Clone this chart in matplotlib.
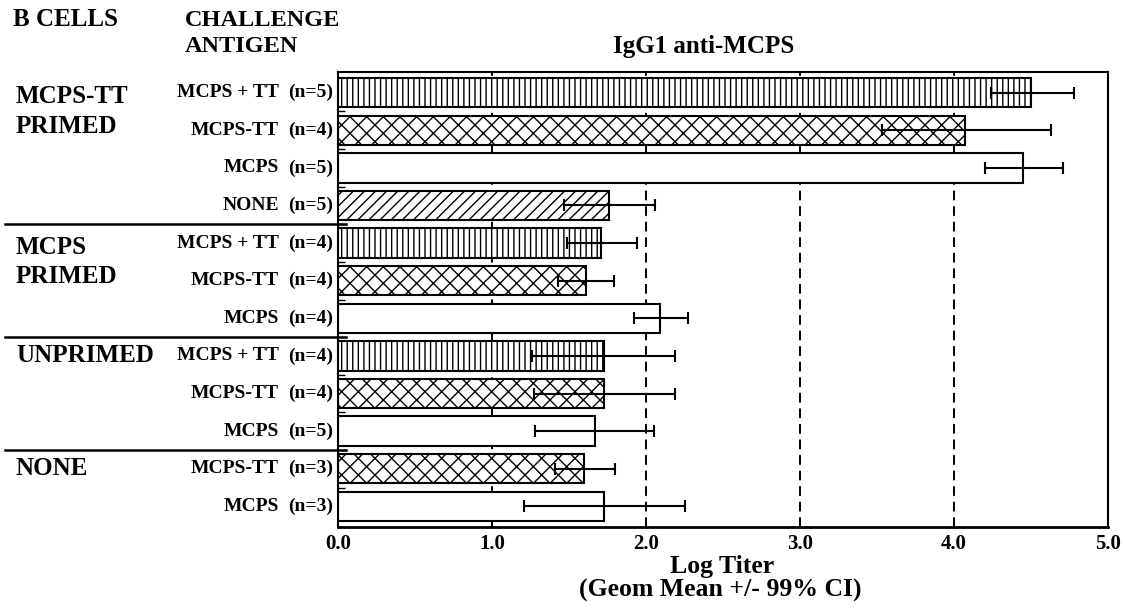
import matplotlib
matplotlib.use("Agg")
import matplotlib.pyplot as plt
import matplotlib.transforms as mtransforms

# ---- data ----
group_labels = ["MCPS-TT\nPRIMED", "MCPS\nPRIMED", "UNPRIMED", "NONE"]
challenge = ["MCPS + TT", "MCPS-TT", "MCPS", "NONE",
             "MCPS + TT", "MCPS-TT", "MCPS",
             "MCPS + TT", "MCPS-TT", "MCPS",
             "MCPS-TT", "MCPS"]
n_values = [5, 4, 5, 5, 4, 4, 4, 4, 4, 5, 3, 3]
means = [4.50, 4.07, 4.45, 1.76, 1.71, 1.61, 2.09, 1.73, 1.73, 1.67, 1.60, 1.73]
ci_low = [4.24, 3.53, 4.20, 1.47, 1.49, 1.43, 1.92, 1.26, 1.27, 1.28, 1.41, 1.21]
ci_high = [4.78, 4.63, 4.71, 2.06, 1.94, 1.79, 2.27, 2.19, 2.19, 2.05, 1.80, 2.25]
x_ticks = [0.0, 1.0, 2.0, 3.0, 4.0, 5.0]
x_ticklabels = ["0.0", "1.0", "2.0", "3.0", "4.0", "5.0"]
hatch_map = {"MCPS + TT": "|||", "MCPS-TT": "xx", "MCPS": "", "NONE": "///"}

plt.rcParams["font.family"] = ["Liberation Serif", "DejaVu Serif"]
plt.rcParams["font.weight"] = "bold"
plt.rcParams["hatch.linewidth"] = 1.0

W, H = 1125, 611
fig = plt.figure(figsize=(W / 100, H / 100), dpi=100)
L, R, T, B = 338, 1108, 72, 527
ax = fig.add_axes([L / W, 1 - B / H, (R - L) / W, (B - T) / H])

rows = list(range(len(means)))
ax.set_xlim(0, 5)
ax.set_ylim(len(means) - 0.45, -0.55)

# reference lines
for xv in [1.0, 2.0, 3.0, 4.0]:
    ax.axvline(xv, color="black", lw=1.4, ls=(0, (5, 3)), zorder=1)

for i in rows:
    ax.barh(i, means[i], height=0.78, color="white", edgecolor="black",
            lw=1.5, hatch=hatch_map[challenge[i]], zorder=2)

xerr = [[m - lo for m, lo in zip(means, ci_low)],
        [hi - m for m, hi in zip(means, ci_high)]]
ax.errorbar(means, rows, xerr=xerr, fmt="none", ecolor="black",
            elinewidth=1.5, capsize=4, capthick=1.5, zorder=3)

ax.set_xticks(x_ticks)
ax.set_xticklabels(x_ticklabels, fontsize=15, fontweight="bold")
ax.tick_params(axis="x", direction="in", length=4, width=1.2, pad=5)
ax.set_yticks([r + 0.5 for r in rows[:-1]])
ax.set_yticklabels([])
ax.tick_params(axis="y", direction="in", length=5, width=1.0)
for s in ax.spines.values():
    s.set_linewidth(1.5)
ax.spines["bottom"].set_linewidth(2.0)

trans = mtransforms.blended_transform_factory(fig.transFigure, ax.transData)
for i in rows:
    ax.text(279 / W, i, challenge[i], transform=trans, ha="right",
            va="center", fontsize=14, fontweight="bold")
    ax.text(333 / W, i, f"(n={n_values[i]})", transform=trans, ha="right",
            va="center", fontsize=14, fontweight="bold")

# group labels
group_rows = [0.5, 4.5, 7, 10]
for lab, r in zip(group_labels, group_rows):
    ax.text(16 / W, r, lab, transform=trans, ha="left", va="center",
            fontsize=18, fontweight="bold", linespacing=1.35)

# group separators
for yb in [3.5, 6.5, 9.5]:
    ax.plot([5 / W, 346 / W], [yb, yb], transform=trans, color="black",
            lw=1.8, clip_on=False, zorder=4)

# headers
fig.text(13 / W, 1 - 20 / H, "B CELLS", ha="left", va="center",
         fontsize=18, fontweight="bold")
fig.text(185 / W, 1 - 20 / H, "CHALLENGE", ha="left", va="center",
         fontsize=17.5, fontweight="bold")
fig.text(185 / W, 1 - 47 / H, "ANTIGEN", ha="left", va="center",
         fontsize=17.5, fontweight="bold")
fig.text(704 / W, 1 - 47 / H, "IgG1 anti-MCPS", ha="center", va="center",
         fontsize=18, fontweight="bold")

fig.text(722 / W, 1 - 566 / H, "Log Titer", ha="center", va="center",
         fontsize=18.5, fontweight="bold")
fig.text(720 / W, 1 - 590 / H, "(Geom Mean +/- 99% CI)", ha="center",
         va="center", fontsize=18.5, fontweight="bold")

fig.savefig("out.png", dpi=100)
